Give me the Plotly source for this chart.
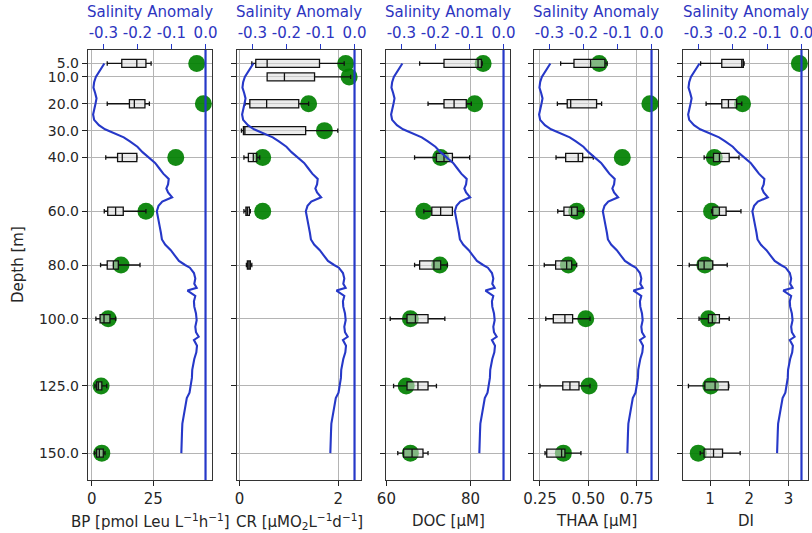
import plotly.graph_objects as go

W, H = 812, 533

# ---------------- data ----------------
DEPTH_TICKS = [5, 10, 20, 30, 40, 60, 80, 100, 125, 150]
DEPTH_TICK_LABELS = ["5.0", "10.0", "20.0", "30.0", "40.0", "60.0", "80.0", "100.0", "125.0", "150.0"]

SAL_TICKS = [-0.3, -0.2, -0.1, 0.0]
SAL_TICK_LABELS = ["-0.3", "-0.2", "-0.1", "0.0"]

SAL_DEPTH = [5.0, 6.5, 8.0, 10.0, 12.0, 14.0, 16.0, 18.0, 20.0, 22.0, 24.0, 26.0, 28.0, 29.5,
             31.0, 32.5, 34.0, 36.0, 38.0, 40.0, 42.0, 44.0, 46.0, 48.0, 50.0, 51.5, 53.0,
             54.8, 56.4, 58.0, 60.0, 62.0, 64.0, 66.0, 68.0, 70.5, 72.5, 74.5, 76.5, 78.5,
             80.0, 81.0, 83.0, 85.0, 87.0, 88.5, 89.5, 90.5, 91.5, 93.5, 95.5, 98.0, 100.5,
             103.0, 105.0, 106.7, 107.9, 110.0, 112.5, 115.0, 117.0, 119.0, 122.0, 125.0,
             127.5, 129.5, 131.0, 133.0, 136.0, 139.0, 142.0, 146.0, 150.0]
SAL_ANOM = [-0.297, -0.305, -0.312, -0.322, -0.327, -0.329, -0.324, -0.320, -0.323, -0.327,
            -0.330, -0.327, -0.313, -0.295, -0.270, -0.240, -0.222, -0.200, -0.185, -0.165,
            -0.148, -0.136, -0.124, -0.108, -0.110, -0.115, -0.110, -0.098, -0.127, -0.138,
            -0.143, -0.140, -0.136, -0.134, -0.131, -0.128, -0.118, -0.102, -0.090, -0.078,
            -0.060, -0.046, -0.034, -0.030, -0.033, -0.026, -0.053, -0.040, -0.030, -0.034,
            -0.033, -0.028, -0.026, -0.030, -0.028, -0.020, -0.034, -0.025, -0.027, -0.033,
            -0.036, -0.039, -0.040, -0.043, -0.047, -0.055, -0.057, -0.061, -0.064, -0.068,
            -0.069, -0.070, -0.071]

BP_DEPTH = [5, 20, 40, 60, 80, 100, 125, 150]
BP_LOW = [6.3, 6.3, 5.7, 5.1, 3.6, 1.7, 1.3, 1.1]
BP_Q1 = [12.2, 15.3, 10.5, 6.5, 6.3, 3.4, 2.0, 2.0]
BP_MED = [18.3, 17.3, 12.4, 9.7, 8.8, 5.0, 2.7, 3.1]
BP_Q3 = [22.0, 21.6, 18.3, 12.8, 10.8, 7.4, 4.1, 4.7]
BP_HIGH = [24.1, 23.4, 18.4, 22.0, 19.6, 9.7, 6.1, 5.4]
BP_OBS = [42.6, 45.3, 34.1, 22.0, 11.9, 6.7, 3.8, 4.1]

CR_DEPTH = [5, 10, 20, 30, 40, 60, 80]
CR_LOW = [0.25, 0.56, 0.11, 0.04, 0.09, 0.09, 0.14]
CR_Q1 = [0.33, 0.56, 0.21, 0.08, 0.18, 0.13, 0.16]
CR_MED = [0.56, 0.91, 0.55, 0.11, 0.28, 0.16, 0.19]
CR_Q3 = [1.62, 1.52, 1.20, 1.34, 0.35, 0.20, 0.22]
CR_HIGH = [2.12, 2.25, 1.40, 1.99, 0.41, 0.22, 0.25]
CR_OBS_DEPTH = [5, 10, 20, 30, 40, 60]
CR_OBS = [2.15, 2.22, 1.40, 1.72, 0.47, 0.47]

DOC_DEPTH = [5, 20, 40, 60, 80, 100, 125, 150]
DOC_LOW = [67.9, 69.9, 66.7, 68.9, 66.7, 60.9, 61.7, 62.7]
DOC_Q1 = [73.7, 73.7, 71.9, 70.8, 67.9, 64.9, 64.9, 64.1]
DOC_MED = [81.8, 76.1, 73.7, 72.9, 71.3, 66.9, 67.5, 66.1]
DOC_Q3 = [82.6, 79.0, 75.7, 75.7, 72.9, 69.9, 69.9, 68.7]
DOC_HIGH = [82.8, 80.2, 79.8, 75.7, 74.5, 73.9, 71.9, 69.9]
DOC_OBS = [83.0, 81.0, 72.9, 68.9, 72.7, 65.7, 64.7, 65.7]

THAA_DEPTH = [5, 20, 40, 60, 80, 100, 125, 150]
THAA_LOW = [0.357, 0.340, 0.333, 0.342, 0.272, 0.280, 0.250, 0.276]
THAA_Q1 = [0.426, 0.391, 0.383, 0.374, 0.331, 0.319, 0.368, 0.285]
THAA_MED = [0.512, 0.409, 0.448, 0.414, 0.388, 0.379, 0.405, 0.362]
THAA_Q3 = [0.586, 0.543, 0.471, 0.443, 0.414, 0.419, 0.452, 0.379]
THAA_HIGH = [0.598, 0.569, 0.526, 0.474, 0.440, 0.509, 0.509, 0.462]
THAA_OBS = [0.557, 0.819, 0.676, 0.440, 0.397, 0.487, 0.504, 0.371]

DI_DEPTH = [5, 20, 40, 60, 80, 100, 125, 150]
DI_LOW = [0.76, 0.90, 0.85, 1.04, 0.47, 0.72, 0.45, 0.75]
DI_Q1 = [1.30, 1.30, 1.09, 1.07, 0.70, 0.96, 0.87, 0.85]
DI_MED = [1.81, 1.47, 1.24, 1.24, 0.85, 1.06, 1.13, 1.09]
DI_Q3 = [1.85, 1.68, 1.49, 1.41, 1.07, 1.24, 1.47, 1.32]
DI_HIGH = [1.87, 1.81, 1.74, 1.79, 1.44, 1.49, 1.48, 1.77]
DI_OBS = [3.28, 1.83, 1.11, 1.04, 0.87, 0.96, 1.02, 0.70]

X_TITLES = ["BP [pmol Leu L<sup>\u22121</sup>h<sup>\u22121</sup>]",
            "CR [\u03bcMO<sub>2</sub>L<sup>\u22121</sup>d<sup>\u22121</sup>]",
            "DOC [\u03bcM]", "THAA [\u03bcM]", "DI"]
X_TICKS = [[0, 25], [0, 2], [60, 80], [0.25, 0.5, 0.75], [1, 2, 3]]
X_TICK_LABELS = [["0", "25"], ["0", "2"], ["60", "80"], ["0.25", "0.50", "0.75"], ["1", "2", "3"]]
X_RANGES = [[-1.5, 48.8], [-0.05, 2.46], [59.9, 89.4], [0.219, 0.861], [0.311, 3.5]]
SAL_RANGE = [-0.345, 0.019]
DEPTH_RANGE = [160, 0]

# ---------------- styling ----------------
FONT = "DejaVu Sans"
BLUE = "#2638c8"
TXT_BLUE = "#2d35c0"
DARK = "#262626"
GRID = "#b4b4b4"
FS = 15

panel_left = [88, 237, 386, 534, 683]
panel_w = [124, 124, 124, 124, 125]
y_dom = [1 - 480 / H, 1 - 50 / H]

panels = [
    (BP_DEPTH, BP_LOW, BP_Q1, BP_MED, BP_Q3, BP_HIGH, BP_DEPTH, BP_OBS),
    (CR_DEPTH, CR_LOW, CR_Q1, CR_MED, CR_Q3, CR_HIGH, CR_OBS_DEPTH, CR_OBS),
    (DOC_DEPTH, DOC_LOW, DOC_Q1, DOC_MED, DOC_Q3, DOC_HIGH, DOC_DEPTH, DOC_OBS),
    (THAA_DEPTH, THAA_LOW, THAA_Q1, THAA_MED, THAA_Q3, THAA_HIGH, THAA_DEPTH, THAA_OBS),
    (DI_DEPTH, DI_LOW, DI_Q1, DI_MED, DI_Q3, DI_HIGH, DI_DEPTH, DI_OBS),
]

fig = go.Figure()
layout = dict(
    width=W, height=H,
    margin=dict(l=0, r=0, t=0, b=0, autoexpand=False),
    paper_bgcolor="white", plot_bgcolor="white",
    showlegend=False,
    font=dict(family=FONT, size=FS, color=DARK),
    boxmode="overlay",
    annotations=[], shapes=[],
)

for i, (dep, lo, q1, med, q3, hi, odep, obs) in enumerate(panels):
    n = i + 1
    bx = "x" if n == 1 else f"x{n}"        # bottom variable axis (dots)
    bxo = f"x{n + 5}"                      # invisible overlay of the same scale (boxes)
    tx = f"x{n + 10}"                      # top salinity axis
    yy = "y" if n == 1 else f"y{n}"
    dom = [panel_left[i] / W, (panel_left[i] + panel_w[i]) / W]

    # observation dots
    fig.add_trace(go.Scatter(
        x=obs, y=odep, mode="markers", xaxis=bx, yaxis=yy,
        marker=dict(size=17, color="rgba(0,128,0,0.92)", line=dict(width=0)),
    ))
    # box plots (drawn above the dots)
    fig.add_trace(go.Box(
        y=dep, q1=q1, median=med, q3=q3, lowerfence=lo, upperfence=hi,
        orientation="h", xaxis=bxo, yaxis=yy, width=3.0, whiskerwidth=0.55,
        fillcolor="rgba(220,220,220,0.55)", line=dict(color="#111111", width=1.3),
        boxpoints=False,
    ))
    # salinity profile on top axis
    fig.add_trace(go.Scatter(
        x=SAL_ANOM, y=SAL_DEPTH, mode="lines", xaxis=tx, yaxis=yy,
        line=dict(color=BLUE, width=2.1),
    ))
    # zero anomaly line
    fig.add_trace(go.Scatter(
        x=[0, 0], y=[-20, 200], mode="lines", xaxis=tx, yaxis=yy,
        line=dict(color=BLUE, width=2.2),
    ))

    layout["xaxis" if n == 1 else f"xaxis{n}"] = dict(
        domain=dom, anchor=yy, range=X_RANGES[i], automargin=False,
        tickvals=X_TICKS[i], ticktext=X_TICK_LABELS[i],
        ticks="outside", ticklen=5, tickwidth=1.2, tickcolor="#222",
        showline=True, mirror=True, linecolor="#333", linewidth=1.4,
        showgrid=True, gridcolor=GRID, gridwidth=1, zeroline=False,
        tickfont=dict(size=FS, color=DARK), ticklabeloverflow="allow",
    )
    layout[f"xaxis{n + 5}"] = dict(
        overlaying=bx, anchor=yy, range=X_RANGES[i], automargin=False,
        visible=False, showgrid=False, zeroline=False,
    )
    layout[f"xaxis{n + 10}"] = dict(
        overlaying=bx, side="top", anchor=yy, range=SAL_RANGE, automargin=False,
        tickvals=SAL_TICKS, ticktext=SAL_TICK_LABELS,
        ticks="outside", ticklen=5, tickwidth=1.2, tickcolor=BLUE,
        showline=False, showgrid=False, zeroline=False,
        tickfont=dict(size=FS, color=TXT_BLUE), ticklabeloverflow="allow",
    )
    layout["yaxis" if n == 1 else f"yaxis{n}"] = dict(
        domain=y_dom, anchor=bx, range=DEPTH_RANGE, automargin=False,
        tickvals=DEPTH_TICKS, ticktext=DEPTH_TICK_LABELS,
        showticklabels=(n == 1),
        ticks="outside", ticklen=5, tickwidth=1.2, tickcolor="#222",
        showline=True, mirror=True, linecolor="#333", linewidth=1.4,
        showgrid=True, gridcolor=GRID, gridwidth=1, zeroline=False,
        tickfont=dict(size=14, color=DARK),
    )
    cx = (panel_left[i] + panel_w[i] / 2) / W
    layout["annotations"].append(dict(
        text="Salinity Anomaly", x=cx, y=1 - 12 / H, xref="paper", yref="paper",
        xanchor="center", yanchor="middle", showarrow=False,
        font=dict(size=FS, color=TXT_BLUE),
    ))
    layout["annotations"].append(dict(
        text=X_TITLES[i], x=cx, y=1 - 521 / H, xref="paper", yref="paper",
        xanchor="center", yanchor="middle", showarrow=False,
        font=dict(size=FS, color=DARK),
    ))

layout["annotations"].append(dict(
    text="Depth [m]", x=18 / W, y=1 - 265 / H, xref="paper", yref="paper",
    xanchor="center", yanchor="middle", textangle=-90, showarrow=False,
    font=dict(size=FS, color=DARK),
))

fig.update_layout(**layout)
fig.write_html("out.html")
